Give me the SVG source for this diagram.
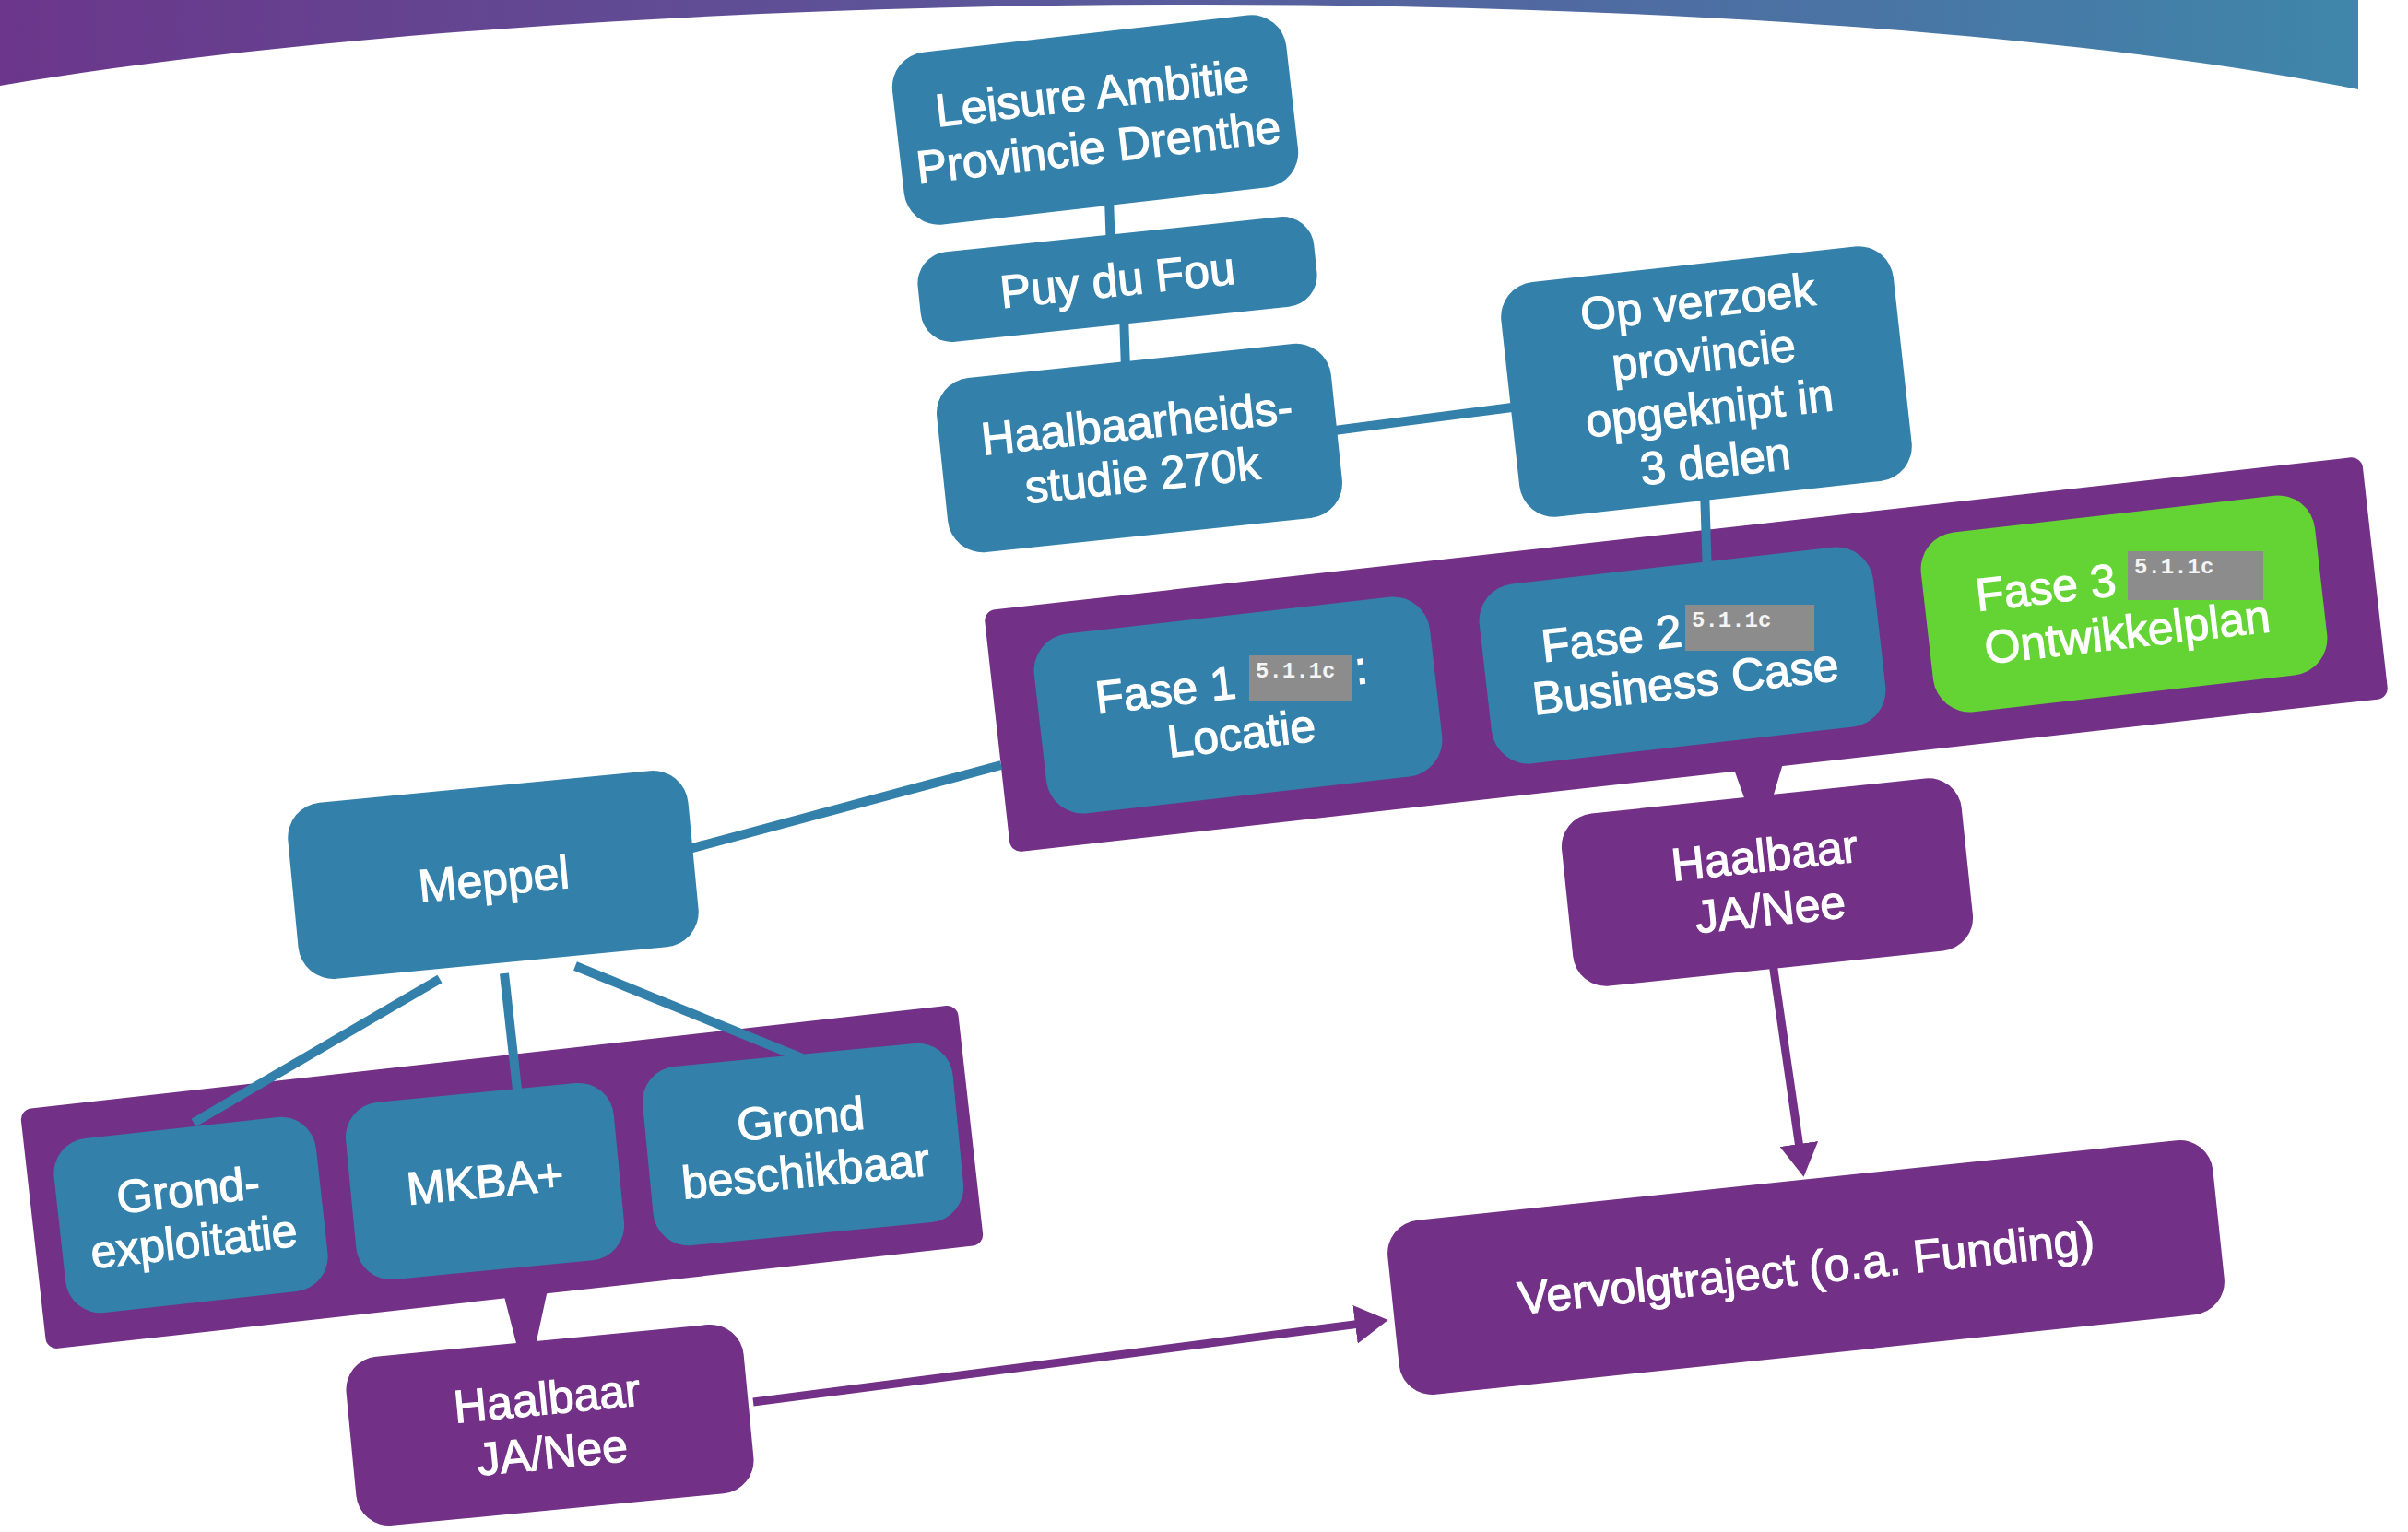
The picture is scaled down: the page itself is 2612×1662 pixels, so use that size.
<svg xmlns="http://www.w3.org/2000/svg" width="2612" height="1662" viewBox="0 0 2612 1662">
<defs>
<linearGradient id="bandGrad" x1="0" y1="0" x2="1" y2="0">
<stop offset="0" stop-color="#6b368b"/>
<stop offset="0.5" stop-color="#585c9c"/>
<stop offset="1" stop-color="#3f86aa"/>
</linearGradient>
<marker id="arrow" viewBox="0 0 36 42" refX="1" refY="21" markerWidth="36" markerHeight="42" markerUnits="userSpaceOnUse" orient="auto">
<path d="M0,0 L36,21 L0,42 Z" fill="#723086"/>
</marker>
<style>
.blue{fill:#3380ab}
.purple{fill:#723086}
.green{fill:#63d434}
.t{font-family:"Liberation Sans",Arial,sans-serif;font-size:50px;fill:#ffffff;stroke:#ffffff;stroke-width:1.2;text-anchor:middle}
.ts{font-family:"Liberation Sans",Arial,sans-serif;font-size:50px;fill:#ffffff;stroke:#ffffff;stroke-width:1.2}
.cb{stroke:#3380ab;stroke-width:10;fill:none}
.cp{stroke:#723086;stroke-width:9;fill:none}
.red{fill:#8c8c8c}
.rt{font-family:"Liberation Mono","DejaVu Sans Mono",monospace;font-size:24px;font-weight:bold;fill:#f4f4f4}
</style>
</defs>
<rect x="0" y="0" width="2612" height="1662" fill="#ffffff"/>
<path d="M0,0 H2558 V97 C1950,-25 700,-25 0,93 Z" fill="url(#bandGrad)"/>

<g id="band-fases" transform="translate(1829 710) rotate(-6.4)">
<rect class="purple" x="-752" y="-132" width="1504" height="264" rx="12"/>
</g>
<g id="band-meppel" transform="translate(544 1277) rotate(-6.4)">
<rect class="purple" x="-511" y="-131" width="1023" height="262" rx="12"/>
</g>

<g id="connectors">
<line class="cb" x1="1203" y1="215" x2="1205" y2="272"/>
<line class="cb" x1="1219" y1="340" x2="1221" y2="402"/>
<line class="cb" x1="1440" y1="468" x2="1640" y2="442"/>
<line class="cb" x1="1849" y1="530" x2="1852" y2="625"/>
<line class="cb" x1="740" y1="923" x2="1086" y2="830"/>
<line class="cb" x1="477" y1="1062" x2="210" y2="1218"/>
<line class="cb" x1="547" y1="1056" x2="561" y2="1182"/>
<line class="cb" x1="624" y1="1048" x2="870" y2="1148"/>
<polygon class="purple" points="1874,815 1940,808 1921,872 1895,874"/>
<polygon class="purple" points="544,1395 596,1390 580,1464 562,1465"/>
<line class="cp" x1="1923" y1="1045" x2="1951.5" y2="1242" marker-end="url(#arrow)"/>
<line class="cp" x1="817" y1="1521" x2="1471" y2="1436.6" marker-end="url(#arrow)"/>
</g>

<g id="n-leisure" transform="translate(1188 130) rotate(-6.5)">
<rect class="blue" x="-215" y="-94" width="430" height="188" rx="38"/>
<text class="t" x="0" y="-12">Leisure Ambitie</text>
<text class="t" x="0" y="47">Provincie Drenthe</text>
</g>
<g id="n-puy" transform="translate(1212 303) rotate(-6)">
<rect class="blue" x="-216" y="-49" width="432" height="98" rx="34"/>
<text class="t" x="0" y="18">Puy du Fou</text>
</g>
<g id="n-haalbaarheid" transform="translate(1236 486) rotate(-6)">
<rect class="blue" x="-215" y="-95" width="430" height="190" rx="38"/>
<text class="t" x="0" y="-10">Haalbaarheids-</text>
<text class="t" x="0" y="47">studie 270k</text>
</g>
<g id="n-opverzoek" transform="translate(1851 414) rotate(-6.3)">
<rect class="blue" x="-214" y="-128" width="428" height="256" rx="38"/>
<text class="t" x="0" y="-70">Op verzoek</text>
<text class="t" x="0" y="-12">provincie</text>
<text class="t" x="0" y="46">opgeknipt in</text>
<text class="t" x="0" y="104">3 delen</text>
</g>

<g id="n-fase1" transform="translate(1343 765) rotate(-6.5)">
<rect class="blue" x="-216" y="-98" width="432" height="196" rx="40"/>
<text class="ts" x="0" y="-8" text-anchor="end">Fase 1</text>
<text class="ts" x="130" y="-8">:</text>
<text class="t" x="0" y="48">Locatie</text>
</g>
<g id="n-fase2" transform="translate(1825 711) rotate(-6.5)">
<rect class="blue" x="-215" y="-98" width="430" height="196" rx="40"/>
<text class="ts" x="2" y="-10" text-anchor="end">Fase 2</text>
<text class="t" x="0" y="46">Business Case</text>
</g>
<g id="n-fase3" transform="translate(2304 655) rotate(-6.5)">
<rect class="green" x="-215" y="-98" width="430" height="196" rx="40"/>
<text class="ts" x="-6" y="-10" text-anchor="end">Fase 3</text>
<text class="t" x="0" y="48">Ontwikkelplan</text>
</g>

<g id="redactions">
<rect class="red" x="1355" y="711" width="112" height="50"/>
<text class="rt" x="1362" y="735">5.1.1c</text>
<rect class="red" x="1828" y="656" width="140" height="50"/>
<text class="rt" x="1835" y="680">5.1.1c</text>
<rect class="red" x="2308" y="598" width="147" height="53"/>
<text class="rt" x="2315" y="622">5.1.1c</text>
</g>

<g id="n-haalbaar-r" transform="translate(1917 957) rotate(-6)">
<rect class="purple" x="-218" y="-94" width="436" height="188" rx="36"/>
<text class="t" x="0" y="-12">Haalbaar</text>
<text class="t" x="0" y="47">JA/Nee</text>
</g>
<g id="n-vervolg" transform="translate(1959 1375) rotate(-6)">
<rect class="purple" x="-450" y="-95" width="900" height="190" rx="36"/>
<text class="t" x="0" y="18">Vervolgtraject (o.a. Funding)</text>
</g>
<g id="n-meppel" transform="translate(535 949) rotate(-5.5)">
<rect class="blue" x="-218" y="-96" width="436" height="192" rx="38"/>
<text class="t" x="0" y="22">Meppel</text>
</g>
<g id="n-grondexpl" transform="translate(207 1318) rotate(-6.3)">
<rect class="blue" x="-143" y="-95" width="286" height="190" rx="38"/>
<text class="t" x="0" y="-10">Grond-</text>
<text class="t" x="0" y="46">exploitatie</text>
</g>
<g id="n-mkba" transform="translate(526 1281) rotate(-5.5)">
<rect class="blue" x="-146" y="-96" width="292" height="193" rx="38"/>
<text class="t" x="0" y="18">MKBA+</text>
</g>
<g id="n-grondbesch" transform="translate(871 1241) rotate(-5.5)">
<rect class="blue" x="-169" y="-97" width="338" height="195" rx="38"/>
<text class="t" x="0" y="-10">Grond</text>
<text class="t" x="0" y="47">beschikbaar</text>
</g>
<g id="n-haalbaar-l" transform="translate(596 1546) rotate(-5.5)">
<rect class="purple" x="-216" y="-92" width="433" height="184" rx="36"/>
<text class="t" x="0" y="-12">Haalbaar</text>
<text class="t" x="0" y="47">JA/Nee</text>
</g>
</svg>
